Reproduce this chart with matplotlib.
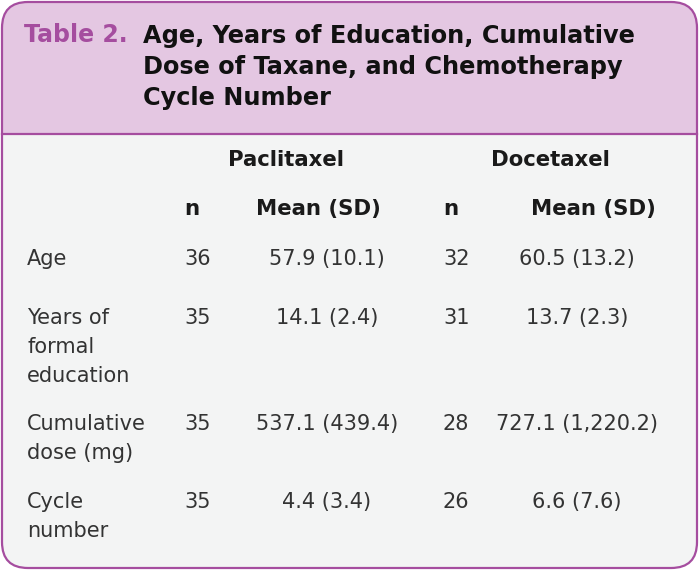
import matplotlib.pyplot as plt
from matplotlib.patches import FancyBboxPatch, Rectangle

# table content
row_labels = ["Age", "Years of\nformal\neducation", "Cumulative\ndose (mg)", "Cycle\nnumber"]
paclitaxel_n = [36, 35, 35, 35]
paclitaxel_mean = [57.9, 14.1, 537.1, 4.4]
paclitaxel_sd = [10.1, 2.4, 439.4, 3.4]
docetaxel_n = [32, 31, 28, 26]
docetaxel_mean = [60.5, 13.7, 727.1, 6.6]
docetaxel_sd = [13.2, 2.3, 1220.2, 7.6]
groups = ["Paclitaxel", "Docetaxel"]
title_tag = "Table 2."
title = "Age, Years of Education, Cumulative\nDose of Taxane, and Chemotherapy\nCycle Number"

PURPLE = "#a54d9f"
HEAD_BG = "#e4c7e2"
BODY_BG = "#f3f4f4"
TXT = "#333333"
HEAD_TXT = "#1a1a1a"

W, H = 699, 571
fig = plt.figure(figsize=(W / 100, H / 100), dpi=100)
ax = fig.add_axes([0, 0, 1, 1])
ax.set_xlim(0, W)
ax.set_ylim(H, 0)
ax.axis("off")

frame = FancyBboxPatch((2, 2), W - 4, H - 5, boxstyle="round,pad=0,rounding_size=26",
                       facecolor=BODY_BG, edgecolor="none")
ax.add_patch(frame)
head = Rectangle((0, 0), W, 134, facecolor=HEAD_BG, edgecolor="none")
ax.add_patch(head)
head.set_clip_path(frame)
ax.plot([2, W - 2], [134, 134], color=PURPLE, lw=1.6)
ax.add_patch(FancyBboxPatch((2, 2), W - 4, H - 5, boxstyle="round,pad=0,rounding_size=26",
                            facecolor="none", edgecolor=PURPLE, lw=1.6))

# title
ax.text(24, 35, title_tag, color=PURPLE, fontsize=17, fontweight="bold", va="center")
ax.text(143, 67, title, color="#111111", fontsize=17.3, fontweight="bold", va="center",
        linespacing=1.38)

# column headers
col_n = [184, 443]
col_mean = [327, 577]
group_x = [286, 550]
mean_hdr_x = [318, 593]
hdr = dict(fontsize=15.3, fontweight="bold", color=HEAD_TXT, va="center")
for gx, g in zip(group_x, groups):
    ax.text(gx, 160, g, ha="center", **hdr)
for nx, mx in zip(col_n, mean_hdr_x):
    ax.text(nx, 209, "n", ha="left", **hdr)
    ax.text(mx, 209, "Mean (SD)", ha="center", **hdr)

# body rows
row_y = [259, 318, 424, 502]
body = dict(fontsize=15, color=TXT, va="center")
for i, y in enumerate(row_y):
    for k, line in enumerate(row_labels[i].split("\n")):
        ax.text(27, y + 29 * k, line, ha="left", **body)
    ax.text(col_n[0], y, str(paclitaxel_n[i]), ha="left", **body)
    ax.text(col_mean[0], y, f"{paclitaxel_mean[i]:,.1f} ({paclitaxel_sd[i]:,.1f})", ha="center", **body)
    ax.text(col_n[1], y, str(docetaxel_n[i]), ha="left", **body)
    ax.text(col_mean[1], y, f"{docetaxel_mean[i]:,.1f} ({docetaxel_sd[i]:,.1f})", ha="center", **body)

fig.savefig("out.png", dpi=100)
